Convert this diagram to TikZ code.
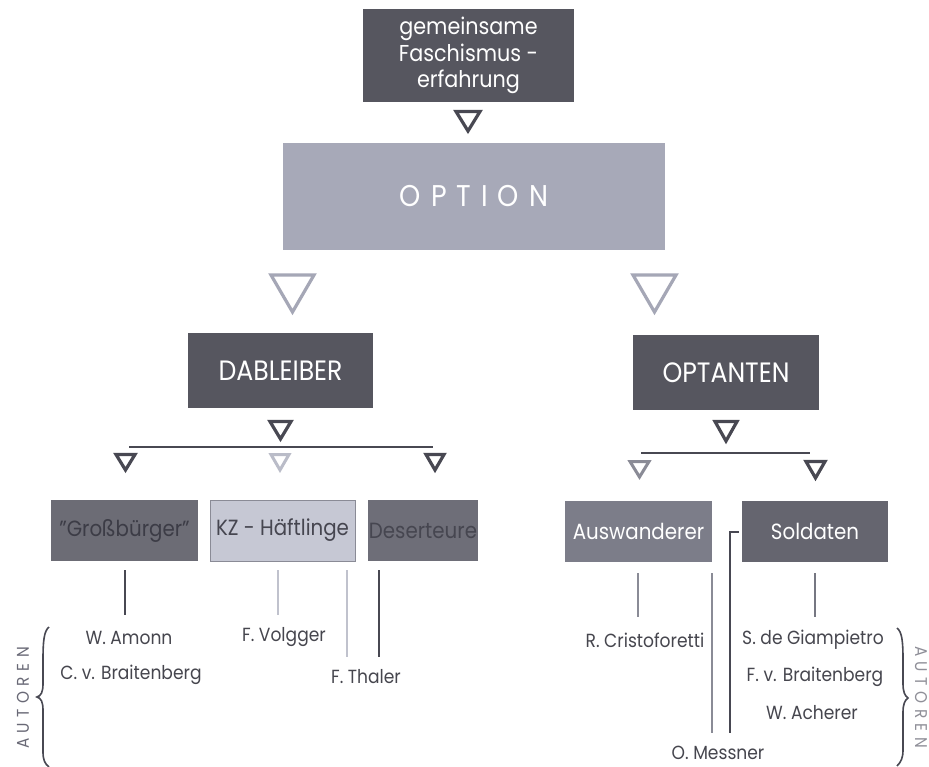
\documentclass[tikz,border=0pt]{standalone}
\usepackage{fontspec}
\setmainfont[FakeStretch=0.9]{Poppins}
\definecolor{cDark}{RGB}{86,86,95}
\definecolor{cOption}{RGB}{167,169,184}
\definecolor{cLightTri}{RGB}{165,167,182}
\definecolor{cKZ}{RGB}{198,200,212}
\definecolor{cGross}{RGB}{108,108,117}
\definecolor{cGrossText}{RGB}{60,60,70}
\definecolor{cDes}{RGB}{110,110,120}
\definecolor{cDesText}{RGB}{70,70,80}
\definecolor{cAusw}{RGB}{124,125,137}
\definecolor{cSold}{RGB}{101,101,111}
\definecolor{cLine}{RGB}{72,72,82}
\definecolor{cLightLine}{RGB}{192,194,205}
\definecolor{cMidLine}{RGB}{138,139,150}
\definecolor{cName}{RGB}{70,70,78}
\definecolor{cAut}{RGB}{105,105,118}
\newcommand\dtri[7]{\draw[#7] (#1,#2) -- (#3,#2) -- (#4,#5) -- cycle;}
\begin{document}
\begin{tikzpicture}[x=1pt,y=-1pt,
  box/.style={rectangle, inner sep=0pt, align=center},
  darkbox/.style={box, fill=cDark, text=white},
  bigfont/.style={font=\fontsize{28}{30}\selectfont},
  midfont/.style={font=\fontsize{22}{26}\selectfont},
  namefont/.style={font=\fontsize{19}{22}\selectfont, text=cName, inner sep=0pt},
  tridark/.style={draw=cLine, line width=3.2pt, line join=miter},
  trilight/.style={draw=cLightTri, line width=3.2pt, line join=miter},
  conn/.style={line width=2.4pt, draw=cLine},
  connlight/.style={line width=1.4pt, draw=cLightLine},
  connmid/.style={line width=2pt, draw=cMidLine},
  autfont/.style={font=\fontsize{17}{17}\selectfont, text=cAut}
]
\useasboundingbox (0,0) rectangle (929,767);
\fill[white] (0,0) rectangle (929,767);

% top box
\node[darkbox, minimum width=211pt, minimum height=93pt,
      font=\fontsize{23}{26.5}\selectfont] (top) at (468.5,55.5)
      {gemeinsame\\Faschismus -\\erfahrung};
% option
\node[box, fill=cOption, text=white, minimum width=382pt, minimum height=107pt,
      font=\fontsize{30}{30}\selectfont] (option) at (474,196.5)
      {O\hspace{10pt}P\hspace{10pt}T\hspace{10pt}I\hspace{10pt}O\hspace{10pt}N};
% level 2
\node[darkbox, bigfont, minimum width=185pt, minimum height=75pt] (dab) at (280.5,370.5) {DABLEIBER};
\node[darkbox, bigfont, minimum width=186pt, minimum height=75pt] (opt) at (726,372.5) {OPTANTEN};
% level 3
\node[box, midfont, fill=cGross, text=cGrossText, minimum width=147pt, minimum height=61pt] (gross) at (124.5,530.5) {"Großbürger"};
\node[box, midfont, fill=cKZ, text=cDesText, draw=cMidLine, line width=0.6pt, minimum width=145pt, minimum height=61pt] (kz) at (282.5,530.5) {KZ - Häftlinge};
\node[box, midfont, fill=cDes, text=cDesText, minimum width=110pt, minimum height=61pt] (des) at (423,530.5) {Deserteure};
\node[box, midfont, fill=cAusw, text=white, minimum width=147pt, minimum height=61pt] (ausw) at (638.5,531.5) {Auswanderer};
\node[box, midfont, fill=cSold, text=white, minimum width=146pt, minimum height=61pt] (sold) at (815,531.5) {Soldaten};

% triangles
\dtri{456}{111.5}{480}{468}{131}{}{tridark}
\dtri{271}{275}{314}{292.5}{312}{}{trilight}
\dtri{633}{275}{676}{654.5}{312}{}{trilight}
\dtri{270}{421.5}{291}{280.5}{439}{}{tridark}
\dtri{116}{454.5}{135}{125.5}{470}{}{tridark}
\dtri{271}{454.5}{289}{280}{470}{}{draw=cKZ!80!cMidLine, line width=3pt, line join=miter}
\dtri{426}{454.5}{444}{435}{470}{}{tridark}
\dtri{715}{421.5}{737}{726}{441}{}{tridark}
\dtri{630}{461.5}{649}{639.5}{477}{}{draw=cMidLine, line width=3pt, line join=miter}
\dtri{806}{461.5}{825}{815.5}{478}{}{tridark}

% horizontal bars
\coordinate (hL1) at (129,447); \coordinate (hL2) at (433,447);
\coordinate (hR1) at (641,453); \coordinate (hR2) at (810,453);
\draw[conn] (hL1) -- (hL2);
\draw[conn] (hR1) -- (hR2);

% names
\node[namefont] (amonn) at (129,638) {W. Amonn};
\node[namefont] (cbrait) at (131,675) {C. v. Braitenberg};
\node[namefont] (volgger) at (284,637) {F. Volgger};
\node[namefont] (thaler) at (366,677) {F. Thaler};
\node[namefont] (crist) at (645,640) {R. Cristoforetti};
\node[namefont] (giamp) at (813,640) {S. de Giampietro};
\node[namefont] (fbrait) at (815,677) {F. v. Braitenberg};
\node[namefont] (acherer) at (812,713) {W. Acherer};
\node[namefont] (messner) at (718,753) {O. Messner};

% vertical connectors
\coordinate (g1) at (125,570); \coordinate (g2) at (125,615);
\coordinate (k1) at (278,570); \coordinate (k2) at (278,615);
\coordinate (k3) at (347,570); \coordinate (k4) at (347,657);
\coordinate (d1) at (379,570); \coordinate (d2) at (379,657);
\coordinate (a1) at (638,573); \coordinate (a2) at (638,617);
\coordinate (a3) at (712,573); \coordinate (a4) at (712,733);
\coordinate (m0) at (739,532); \coordinate (m1) at (730,532); \coordinate (m2) at (730,733);
\coordinate (s1) at (815,573); \coordinate (s2) at (815,617);
\draw[conn] (g1) -- (g2);
\draw[connlight] (k1) -- (k2);
\draw[connlight] (k3) -- (k4);
\draw[conn] (d1) -- (d2);
\draw[connmid] (a1) -- (a2);
\draw[connmid] (a3) -- (a4);
\draw[conn, line join=miter] (m0) -- (m1) -- (m2);
\draw[connmid, draw=cMidLine!70!cLine] (s1) -- (s2);

% braces
\draw[line width=1.6pt, draw=cLine]
  (49,627) .. controls (44,631) and (43,641) .. (43,660) -- (43,684)
  .. controls (43,692) and (41,696) .. (37,697)
  .. controls (41,698) and (43,702) .. (43,710) -- (43,752)
  .. controls (43,760) and (45,764) .. (49,767);
\draw[line width=1.6pt, draw=cLine]
  (897,628) .. controls (902,632) and (903,641) .. (903,660) -- (903,684)
  .. controls (903,692) and (905,696) .. (908,698)
  .. controls (905,700) and (903,704) .. (903,712) -- (903,750)
  .. controls (903,758) and (901,762) .. (897,766);
\node[autfont, rotate=90] (autL) at (23,698) {A\hspace{5.5pt}U\hspace{5.5pt}T\hspace{5.5pt}O\hspace{5.5pt}R\hspace{5.5pt}E\hspace{5.5pt}N};
\node[autfont, rotate=-90, text=cAut!75] (autR) at (921,697) {A\hspace{5.5pt}U\hspace{5.5pt}T\hspace{5.5pt}O\hspace{5.5pt}R\hspace{5.5pt}E\hspace{5.5pt}N};
\end{tikzpicture}
\end{document}
